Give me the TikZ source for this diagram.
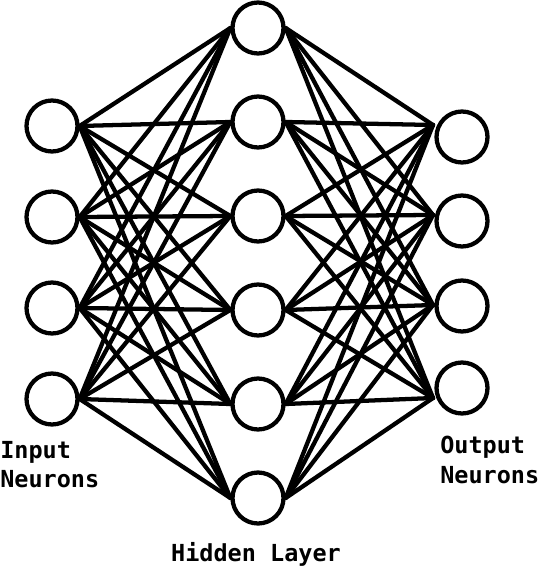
\documentclass[tikz,border=0pt]{standalone}
\usepackage{fontspec}
\setmonofont{DejaVu Sans Mono}
\begin{document}
\begin{tikzpicture}[x=0.75pt,y=-0.75pt,
  neuron/.style={circle,draw,line width=3.2pt,minimum size=38.25pt,inner sep=0pt},
  link/.style={line width=3.2pt,line cap=round},
  lbl/.style={font=\ttfamily\bfseries\fontsize{17.6}{20}\selectfont,inner sep=0pt,anchor=base west}]
\useasboundingbox (0,0) rectangle (539,566);
\foreach \y [count=\i] in {126,217,308,399} \node[neuron] (i\i) at (52,\y) {};
\foreach \y [count=\i] in {28,122,216,310,404,498} \node[neuron] (h\i) at (258,\y) {};
\foreach \y [count=\i] in {137,221,306,388} \node[neuron] (o\i) at (462,\y) {};
\foreach \y [count=\i] in {125,215,305,398} \coordinate (p\i) at (433,\y);
\foreach \a in {1,...,4} \foreach \b in {1,...,6} \draw[link] (i\a.east) -- (h\b.west);
\foreach \b in {1,...,6} \foreach \c in {1,...,4} \draw[link] (h\b.east) -- (p\c);
\node[lbl] (t1) at (0,458) {Input};
\node[lbl] (t2) at (0,487) {Neurons};
\node[lbl] (t3) at (440,453) {Output};
\node[lbl] (t4) at (440,483) {Neurons};
\node[lbl,anchor=base] (t5) at (256,561) {Hidden Layer};
\end{tikzpicture}
\end{document}
